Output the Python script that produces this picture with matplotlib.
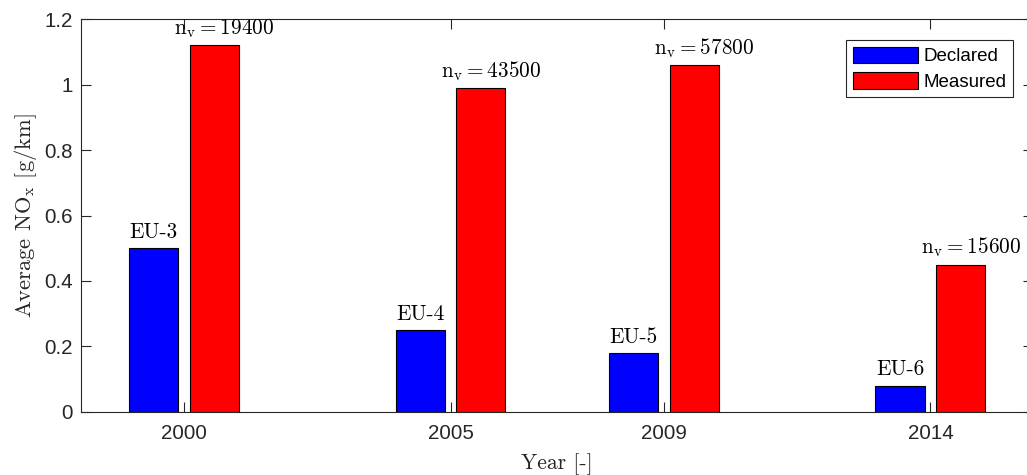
import matplotlib
matplotlib.use("Agg")
import matplotlib.pyplot as plt
import numpy as np

# ---- data ----
years = [2000, 2005, 2009, 2014]
declared = [0.50, 0.25, 0.18, 0.08]
measured = [1.12, 0.99, 1.06, 0.45]
standards = ["EU-3", "EU-4", "EU-5", "EU-6"]
n_vehicles = [19400, 43500, 57800, 15600]
yticks = [0, 0.2, 0.4, 0.6, 0.8, 1.0, 1.2]
ytick_labels = ["0", "0.2", "0.4", "0.6", "0.8", "1", "1.2"]

plt.rcParams["mathtext.fontset"] = "cm"
W, H = 1027, 475
fig = plt.figure(figsize=(W / 100, H / 100), dpi=100)
ax = fig.add_axes([81 / W, (H - 411.7) / H, 952.3 / W, 392.4 / H])

axcol = "#262626"
x = np.array(years, dtype=float)
width = 0.92
off = 0.57
b1 = ax.bar(x - off, declared, width, color="#0000FF", edgecolor="black", linewidth=0.8, label="Declared")
b2 = ax.bar(x + off, measured, width, color="#FF0000", edgecolor="black", linewidth=0.8, label="Measured")

serif = "cmr10"
for xi, v, s in zip(x - off, declared, standards):
    ax.annotate(s, (xi, v), xytext=(0, 7.3), textcoords="offset points",
                ha="center", va="baseline", fontsize=15.3, family=serif, color="black")
for xi, v, n in zip(x + off, measured, n_vehicles):
    ax.annotate(r"$\mathrm{n_v} = %d$" % n, (xi, v), xytext=(7.2, 8.0), textcoords="offset points",
                ha="center", va="baseline", fontsize=15.3, color="black")

ax.set_xlim(1998.07, 2015.93)
ax.set_ylim(0, 1.2)
ax.set_xticks(years)
ax.set_xticklabels([str(y) for y in years])
ax.set_yticks(yticks)
ax.set_yticklabels(ytick_labels)

for sp in ax.spines.values():
    sp.set_color(axcol)
    sp.set_linewidth(0.8)
ax.tick_params(axis="both", which="both", direction="in", top=True, right=True,
               length=7.2, width=0.8, color=axcol, labelcolor=axcol, labelsize=14.8)
ax.tick_params(axis="x", pad=9.0)
ax.tick_params(axis="y", pad=5.8)
for lab in ax.get_xticklabels() + ax.get_yticklabels():
    lab.set_family("Liberation Sans")

ax.set_xlabel("Year [-]", family=serif, fontsize=15.6, color=axcol)
ax.xaxis.label.set_va("baseline")
ax.xaxis.set_label_coords(0.5, (411.7 - 469) / 392.4)
ax.set_ylabel(r"Average NO$_\mathrm{x}$ [g/km]", family=serif, fontsize=16.2, color=axcol)
ax.yaxis.label.set_va("baseline")
ax.yaxis.set_label_coords((31 - 81) / 952.3, 0.5)

leg = ax.legend(loc="upper right", bbox_to_anchor=(1013 / W, (H - 40) / H),
                bbox_transform=fig.transFigure, borderaxespad=0, fancybox=False,
                edgecolor=axcol, framealpha=1, handlelength=3.47, handleheight=1.0,
                handletextpad=0.3, borderpad=0.35, labelspacing=0.35,
                prop={"family": "Liberation Sans", "size": 13.5})
leg.get_frame().set_linewidth(0.8)

fig.savefig("out.png", dpi=100)
